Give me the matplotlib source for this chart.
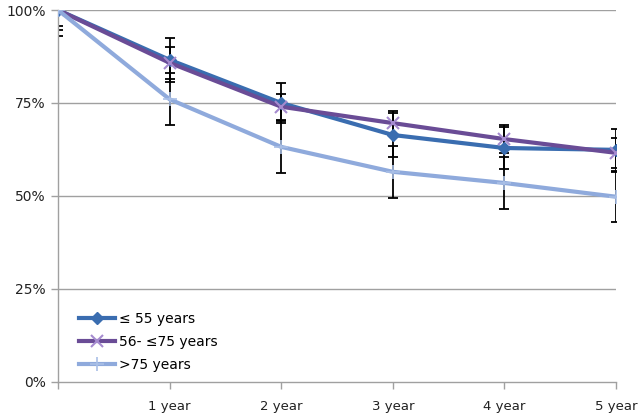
import matplotlib
matplotlib.use("Agg")
import matplotlib.pyplot as plt
import numpy as np

categories = ["", "1 year", "2 year", "3 year", "4 year", "5 year"]
series_names = ["\u2264 55 years", "56- \u226475 years", ">75 years"]
le55 = [100, 86.6, 75.0, 66.4, 62.9, 62.4]
mid56_75 = [100, 85.8, 74.0, 69.6, 65.3, 61.6]
gt75 = [100, 76.0, 63.2, 56.5, 53.5, 49.8]
err_le55 = [5.4, 5.9, 5.4, 5.9, 5.6, 5.6]
err_mid = [4.3, 4.3, 3.5, 3.2, 3.8, 4.0]
err_gt75 = [7.0, 7.0, 7.0, 7.0, 6.9, 6.7]
yticks = [0, 25, 50, 75, 100]
ytick_labels = ["0%", "25%", "50%", "75%", "100%"]

plt.rcParams['font.family'] = ['DejaVu Sans']
fig = plt.figure(figsize=(6.41, 4.17), dpi=100)
ax = fig.add_axes([0.0905, 0.084, 0.8705, 0.892])

x = np.arange(len(categories))
grid_c = "#A0A0A0"
for yv in yticks[1:]:
    ax.axhline(yv, color=grid_c, lw=1.0, zorder=0)

styles = [
    (le55, err_le55, "#3A6DB0", "D", "#3A6DB0", 6.5, 1.0),
    (mid56_75, err_mid, "#6A4C96", "x", "#A58BCF", 9, 1.5),
    (gt75, err_gt75, "#8FAADC", "+", "#A9BFE6", 10, 1.2),
]
for (vals, errs, col, mk, mcol, ms, mew) in styles:
    ax.errorbar(x, vals, yerr=errs, fmt='none', ecolor='black', elinewidth=1.3,
                capsize=3.5, capthick=1.3, zorder=2)
for (vals, errs, col, mk, mcol, ms, mew), name in zip(styles, series_names):
    ax.plot(x, vals, color=col, lw=3.0, marker=mk, markersize=ms,
            markerfacecolor=mcol, markeredgecolor=mcol, markeredgewidth=mew,
            label=name, zorder=3)

ax.set_xlim(0, 5)
ax.set_ylim(0, 100)
ax.set_xticks(x)
ax.set_xticklabels(categories, fontsize=9.5, color="#222222")
ax.set_yticks(yticks)
ax.set_yticklabels(ytick_labels, fontsize=10, color="#222222")
ax.tick_params(axis='both', color=grid_c, length=5, width=1.0)
ax.tick_params(axis='x', pad=8)
ax.tick_params(axis='y', pad=4)
for s in ["top", "right"]:
    ax.spines[s].set_visible(False)
for s in ["left", "bottom"]:
    ax.spines[s].set_color(grid_c)
    ax.spines[s].set_linewidth(1.0)

leg = ax.legend(loc='lower left', bbox_to_anchor=(0.02, 0.0), frameon=False,
                fontsize=10, handlelength=2.6, handletextpad=0.3,
                labelspacing=0.65, borderaxespad=0.3)

fig.savefig("out.png", dpi=100)
